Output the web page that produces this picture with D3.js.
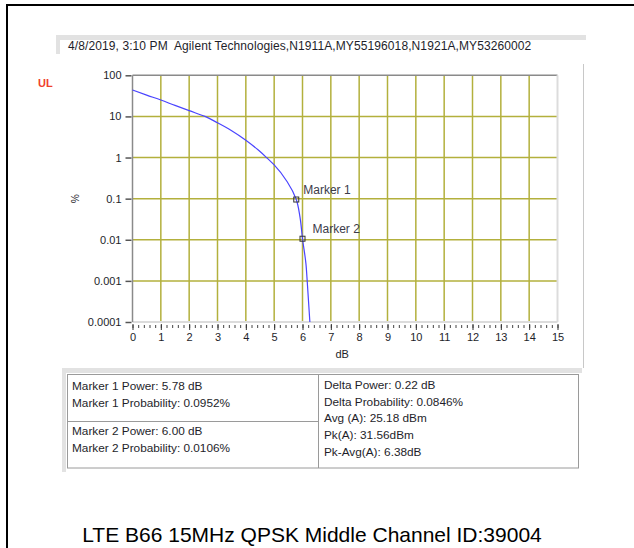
<!DOCTYPE html>
<html>
<head>
<meta charset="utf-8">
<script src="https://cdn.jsdelivr.net/npm/d3@7"></script>
<style>
  html, body { margin: 0; padding: 0; background: #fff; }
  svg { display: block; }
</style>
</head>
<body>
<script>
// CCDF curve (power above average in dB vs probability in %)
var powerDb = [0, 0.5, 1, 1.5, 2, 2.56, 3, 3.5, 4, 4.44, 4.73, 5.0, 5.46, 5.78, 5.91, 6.0, 6.12, 6.17, 6.26];
var probPct = [44, 33, 25, 18.5, 13.8, 10, 7.0, 4.5, 2.64, 1.52, 1.0, 0.66, 0.258, 0.0952, 0.036, 0.0106, 0.00267, 0.0009, 0.0001];

var markerNames = ['Marker 1', 'Marker 2'];
var markerDb = [5.78, 6.00];
var markerPct = [0.0952, 0.0106];

var yTickValues = [100, 10, 1, 0.1, 0.01, 0.001, 0.0001];
var yTickLabels = ['100', '10', '1', '0.1', '0.01', '0.001', '0.0001'];
var xTickValues = d3.range(0, 16);

var headerText = '4/8/2019, 3:10 PM  Agilent Technologies,N1911A,MY55196018,N1921A,MY53260002';
var leftTopLines = ['Marker 1 Power: 5.78 dB', 'Marker 1 Probability: 0.0952%'];
var leftBottomLines = ['Marker 2 Power: 6.00 dB', 'Marker 2 Probability: 0.0106%'];
var rightLines = ['Delta Power: 0.22 dB', 'Delta Probability: 0.0846%', 'Avg (A): 25.18 dBm', 'Pk(A): 31.56dBm', 'Pk-Avg(A): 6.38dB'];
var caption = 'LTE B66 15MHz QPSK Middle Channel ID:39004';

var W = 634, H = 548;
var uiFont = '"Liberation Sans", Arial, sans-serif';
var gridColor = '#b3b03c';
var textColor = '#1e1e2a';

var svg = d3.select('body').append('svg').attr('width', W).attr('height', H);

// outer table cell borders
svg.append('line').attr('x1', 7).attr('x2', W).attr('y1', 5).attr('y2', 5)
  .attr('stroke', '#000').attr('stroke-width', 2);
svg.append('line').attr('x1', 7).attr('x2', 7).attr('y1', 4).attr('y2', H)
  .attr('stroke', '#000').attr('stroke-width', 2);

// screenshot panel shading
svg.append('rect').attr('x', 56).attr('y', 35).attr('width', 530).attr('height', 5).attr('fill', '#e2e2e2');
svg.append('rect').attr('x', 56).attr('y', 35).attr('width', 4).attr('height', 19).attr('fill', '#e2e2e2');
svg.append('line').attr('x1', 583.5).attr('x2', 583.5).attr('y1', 64).attr('y2', 368)
  .attr('stroke', '#c8c8c8').attr('stroke-width', 1);

svg.append('text').attr('x', 68).attr('y', 50)
  .attr('font-family', uiFont).attr('font-size', 12).attr('fill', textColor)
  .attr('letter-spacing', 0.1)
  .attr('xml:space', 'preserve').style('white-space', 'pre')
  .text(headerText);

svg.append('text').attr('x', 38).attr('y', 87)
  .attr('font-family', uiFont).attr('font-size', 11).attr('font-weight', 'bold')
  .attr('fill', '#f0402c').text('UL');

// plot
var x = d3.scaleLinear().domain([0, 15]).range([132.5, 557.5]);
var y = d3.scaleLog().domain([0.0001, 100]).range([322, 75.3]);

var plot = svg.append('g');
plot.append('rect').attr('x', x(0)).attr('y', y(100)).attr('width', x(15) - x(0)).attr('height', y(0.0001) - y(100))
  .attr('fill', '#fff');

// grid
plot.selectAll('.vgrid').data(d3.range(1, 15)).enter().append('line')
  .attr('x1', function(d) { return x(d); }).attr('x2', function(d) { return x(d); })
  .attr('y1', y(100)).attr('y2', y(0.0001))
  .attr('stroke', gridColor).attr('stroke-width', 1.5);
plot.selectAll('.hgrid').data([10, 1, 0.1, 0.01, 0.001]).enter().append('line')
  .attr('x1', x(0)).attr('x2', x(15))
  .attr('y1', function(d) { return y(d); }).attr('y2', function(d) { return y(d); })
  .attr('stroke', gridColor).attr('stroke-width', 1.5);

// frame
plot.append('line').attr('x1', x(0)).attr('x2', x(15)).attr('y1', y(100)).attr('y2', y(100))
  .attr('stroke', '#8a8a8a').attr('stroke-width', 1.5);
plot.append('line').attr('x1', x(15)).attr('x2', x(15)).attr('y1', y(100)).attr('y2', y(0.0001))
  .attr('stroke', '#dcdcdc').attr('stroke-width', 2);
plot.append('line').attr('x1', x(0)).attr('x2', x(15)).attr('y1', y(0.0001)).attr('y2', y(0.0001))
  .attr('stroke', '#dcdcdc').attr('stroke-width', 2);
plot.append('line').attr('x1', x(0)).attr('x2', x(0)).attr('y1', y(100)).attr('y2', y(0.0001))
  .attr('stroke', '#8a8a8a').attr('stroke-width', 1.5);

// y axis
var yAxis = d3.axisLeft(y).tickValues(yTickValues).tickSize(6).tickPadding(4)
  .tickFormat(function(d, i) { return yTickLabels[i]; });
var gy = svg.append('g').attr('transform', 'translate(' + (x(0) - 1) + ',0)').call(yAxis);
gy.select('.domain').remove();
gy.selectAll('.tick line').attr('stroke', '#555').attr('stroke-width', 1.5);
gy.selectAll('.tick text').attr('font-family', uiFont).attr('font-size', 11).attr('fill', textColor);

// x axis with minor ticks
var gxMinor = svg.append('g').attr('transform', 'translate(0,' + (y(0.0001) + 3) + ')')
  .call(d3.axisBottom(x).tickValues(d3.range(0, 15.01, 0.2)).tickSize(3).tickFormat(''));
gxMinor.select('.domain').remove();
gxMinor.selectAll('.tick line').attr('stroke', '#444').attr('stroke-width', 1);

var gx = svg.append('g').attr('transform', 'translate(0,' + (y(0.0001) + 2) + ')')
  .call(d3.axisBottom(x).tickValues(xTickValues).tickSize(6).tickPadding(3).tickFormat(d3.format('d')));
gx.select('.domain').remove();
gx.selectAll('.tick line').attr('stroke', '#333').attr('stroke-width', 1);
gx.selectAll('.tick text').attr('font-family', uiFont).attr('font-size', 11).attr('fill', textColor);

svg.append('text').attr('x', x(7.4)).attr('y', 358).attr('text-anchor', 'middle')
  .attr('font-family', uiFont).attr('font-size', 11).attr('fill', textColor).text('dB');
svg.append('text').attr('transform', 'translate(71,' + y(0.1) + ') rotate(90)')
  .attr('text-anchor', 'middle').attr('font-family', uiFont).attr('font-size', 10).attr('fill', textColor).text('%');

// curve
var curveData = powerDb.map(function(d, i) { return [d, probPct[i]]; });
var line = d3.line().x(function(d) { return x(d[0]); }).y(function(d) { return y(d[1]); })
  .curve(d3.curveMonotoneY);
plot.append('path').datum(curveData).attr('d', line)
  .attr('fill', 'none').attr('stroke', '#4a44ff').attr('stroke-width', 1.2);

// markers
var mk = plot.selectAll('.marker').data(markerNames).enter().append('g');
mk.append('rect')
  .attr('x', function(d, i) { return x(markerDb[i]) - 2.5; })
  .attr('y', function(d, i) { return y(markerPct[i]) - 2.5; })
  .attr('width', 5).attr('height', 5)
  .attr('fill', 'none').attr('stroke', '#333').attr('stroke-width', 1);
mk.append('text')
  .attr('x', function(d, i) { return x(markerDb[i]) + (i === 0 ? 7 : 10); })
  .attr('y', function(d, i) { return y(markerPct[i]) - 6; })
  .attr('font-family', uiFont).attr('font-size', 12).attr('fill', '#3c3c4a')
  .text(function(d) { return d; });

// info table
var tbl = svg.append('g');
tbl.append('rect').attr('x', 62).attr('y', 368).attr('width', 520).attr('height', 5).attr('fill', '#e2e2e2');
tbl.append('rect').attr('x', 62).attr('y', 368).attr('width', 4).attr('height', 104).attr('fill', '#e2e2e2');
tbl.append('rect').attr('x', 67.5).attr('y', 374.5).attr('width', 511).attr('height', 93.5)
  .attr('fill', '#fff').attr('stroke', '#9a9a9a').attr('stroke-width', 1);
tbl.append('line').attr('x1', 318.5).attr('x2', 318.5).attr('y1', 374.5).attr('y2', 468)
  .attr('stroke', '#9a9a9a').attr('stroke-width', 1);
tbl.append('line').attr('x1', 67.5).attr('x2', 318.5).attr('y1', 421.5).attr('y2', 421.5)
  .attr('stroke', '#9a9a9a').attr('stroke-width', 1);

function writeLines(lines, x0, y0) {
  tbl.selectAll(null).data(lines).enter().append('text')
    .attr('x', x0).attr('y', function(d, i) { return y0 + i * 16.7; })
    .attr('font-family', uiFont).attr('font-size', 11.8).attr('fill', textColor)
    .text(function(d) { return d; });
}
writeLines(leftTopLines, 72, 390);
writeLines(leftBottomLines, 72, 435);
writeLines(rightLines, 324, 389);

svg.append('text').attr('x', 312).attr('y', 542).attr('text-anchor', 'middle')
  .attr('font-family', uiFont).attr('font-size', 21).attr('fill', '#000').text(caption);
</script>
</body>
</html>
